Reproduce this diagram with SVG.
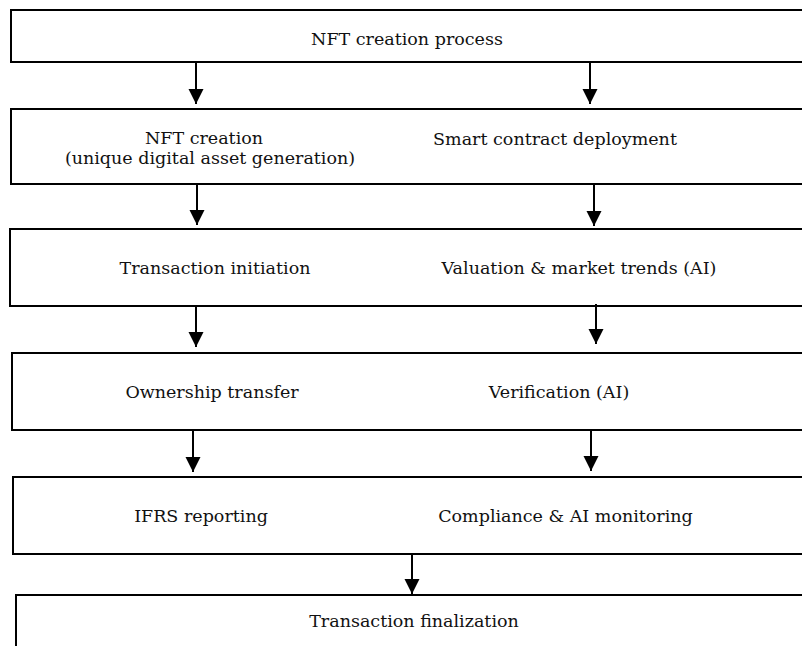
<svg xmlns="http://www.w3.org/2000/svg" width="802" height="646" viewBox="0 0 802 646">
<defs>
<style>
.box{fill:#fff;stroke:#000;stroke-width:2}
.lbl{font-family:"DejaVu Serif","Liberation Serif",serif;font-size:17.5px;fill:#111;text-anchor:middle}
.arr{stroke:#000;stroke-width:2;fill:none;marker-end:url(#ah)}
</style>
<marker id="ah" markerUnits="userSpaceOnUse" markerWidth="15" markerHeight="16" refX="15" refY="7.5" orient="auto" viewBox="0 0 15 15">
<path d="M0,0 L15,7.5 L0,15 z" fill="#000"/>
</marker>
</defs>
<rect width="802" height="646" fill="#fff"/>
<g id="n1"><rect class="box" x="11" y="10" width="820" height="52"/><text class="lbl" x="407" y="45">NFT creation process</text></g>
<g id="n2"><rect class="box" x="11" y="109" width="820" height="75"/><text class="lbl" x="204" y="144">NFT creation</text><text class="lbl" x="210" y="163.5">(unique digital asset generation)</text><text class="lbl" x="555" y="145">Smart contract deployment</text></g>
<g id="n3"><rect class="box" x="10" y="229" width="820" height="77"/><text class="lbl" x="215" y="274">Transaction initiation</text><text class="lbl" x="579" y="274">Valuation &amp; market trends (AI)</text></g>
<g id="n4"><rect class="box" x="12" y="353" width="820" height="77"/><text class="lbl" x="212" y="398">Ownership transfer</text><text class="lbl" x="559" y="398">Verification (AI)</text></g>
<g id="n5"><rect class="box" x="13" y="477" width="820" height="77"/><text class="lbl" x="201" y="522">IFRS reporting</text><text class="lbl" x="565.5" y="522">Compliance &amp; AI monitoring</text></g>
<g id="n6"><rect class="box" x="16" y="595" width="820" height="80"/><text class="lbl" x="414" y="627">Transaction finalization</text></g>
<g id="connectors">
<line class="arr" x1="196" y1="63" x2="196" y2="104"/>
<line class="arr" x1="590" y1="63" x2="590" y2="104"/>
<line class="arr" x1="197" y1="185" x2="197" y2="225"/>
<line class="arr" x1="594" y1="185" x2="594" y2="226"/>
<line class="arr" x1="196" y1="307" x2="196" y2="347"/>
<line class="arr" x1="596" y1="304" x2="596" y2="344"/>
<line class="arr" x1="193" y1="431" x2="193" y2="472"/>
<line class="arr" x1="591" y1="431" x2="591" y2="471"/>
<line class="arr" x1="412" y1="555" x2="412" y2="594"/>
</g>
</svg>
